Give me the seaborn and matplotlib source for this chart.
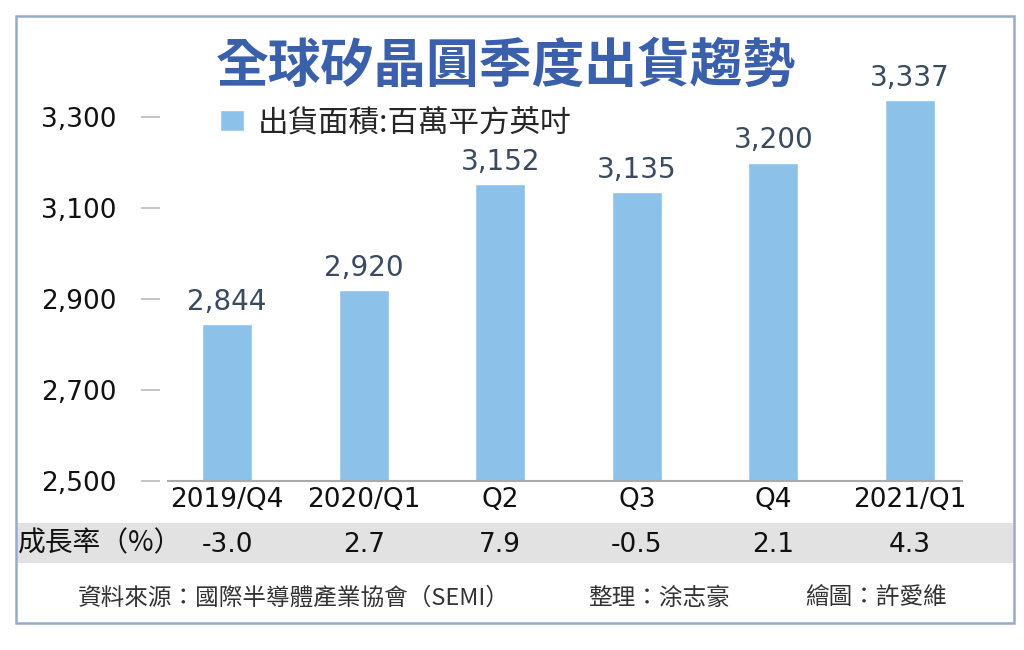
import matplotlib
matplotlib.use("Agg")
import matplotlib.pyplot as plt
import matplotlib.patches as mpatches
import pandas as pd
import seaborn as sns

quarters = ["2019/Q4", "2020/Q1", "Q2", "Q3", "Q4", "2021/Q1"]
shipments = [2844, 2920, 3152, 3135, 3200, 3337]
growth = ["-3.0", "2.7", "7.9", "-0.5", "2.1", "4.3"]
y_ticks = [2500, 2700, 2900, 3100, 3300]

title = "全球矽晶圓季度出貨趨勢"
legend_label = "出貨面積:百萬平方英吋"
growth_label = "成長率（%）"
footer_source = "資料來源：國際半導體產業協會（SEMI）"
footer_editor = "整理：涂志豪"
footer_artist = "繪圖：許愛維"

BAR_COLOR = "#8cc1ea"
TITLE_COLOR = "#3b60ab"
VALUE_COLOR = "#3a4a60"
CJK = ["Noto Sans CJK TC", "DejaVu Sans"]

sns.set_style("white")
plt.rcParams["font.family"] = ["DejaVu Sans", "Noto Sans CJK TC"]

W, H = 1024, 650
fig = plt.figure(figsize=(W / 100, H / 100), dpi=100)


def fx(x):
    return x / W


def fy(y):
    return 1 - y / H


# axes placed from pixel positions of the reference
ax = fig.add_axes([fx(168), fy(481), fx(962) - fx(168), fy(71.5) - fy(481)])

df = pd.DataFrame({"quarter": quarters, "area": shipments})
sns.barplot(data=df, x="quarter", y="area", color=BAR_COLOR, width=0.366,
            saturation=1, ax=ax, label=legend_label)

ax.set_ylim(2500, 3400)
ax.set_xlim(-0.432, 5.38)
ax.set_yticks(y_ticks)
ax.set_yticklabels([f"{v:,}" for v in y_ticks])
ax.set_xlabel("")
ax.set_ylabel("")

for s in ["top", "right", "left"]:
    ax.spines[s].set_visible(False)
ax.spines["left"].set_position(("outward", 6))
ax.spines["bottom"].set_color("#aaaaaa")
ax.spines["bottom"].set_linewidth(1.5)

ax.tick_params(axis="y", length=14, width=1.2, color="#bbbbbb", pad=17,
               labelsize=19, labelcolor="#111111", left=True)
ax.tick_params(axis="x", length=0, pad=4, labelsize=19, labelcolor="#111111")

ax.bar_label(ax.containers[0], labels=[f"{v:,}" for v in shipments],
             padding=6, fontsize=20, color=VALUE_COLOR)

leg = ax.legend(loc="upper left", bbox_to_anchor=(fx(220), fy(107)),
                bbox_transform=fig.transFigure, frameon=False,
                prop={"family": CJK, "size": 22},
                handlelength=0.8, handleheight=0.7, handletextpad=0.45,
                borderpad=0, borderaxespad=0)

# title
fig.text(fx(506), fy(66), title, ha="center", va="center", fontsize=38,
         color=TITLE_COLOR, fontweight="semibold", family=CJK)

# outer frame and growth band
fig.patches.append(mpatches.Rectangle((fx(16), fy(623)), fx(1014) - fx(16),
                                      fy(16) - fy(623), transform=fig.transFigure,
                                      fill=False, edgecolor="#97aacb", linewidth=1.8))
fig.patches.append(mpatches.Rectangle((fx(17), fy(563)), fx(1013) - fx(17),
                                      fy(523) - fy(563), transform=fig.transFigure,
                                      facecolor="#e2e2e2", edgecolor="none", zorder=0))

# growth row aligned with bar centres
fig.text(fx(18), fy(543), growth_label, ha="left", va="center", fontsize=20,
         color="#111111", family=CJK)
for i, g in enumerate(growth):
    x_disp = ax.transData.transform((i, 0))[0]
    fig.text(x_disp / W, fy(545), g, ha="center", va="center", fontsize=19,
             color="#111111")

# footer
for x, txt in [(78, footer_source), (588, footer_editor), (805, footer_artist)]:
    fig.text(fx(x), fy(598), txt, ha="left", va="center", fontsize=17,
             color="#333333", family=CJK)

fig.savefig("out.png", dpi=100)
